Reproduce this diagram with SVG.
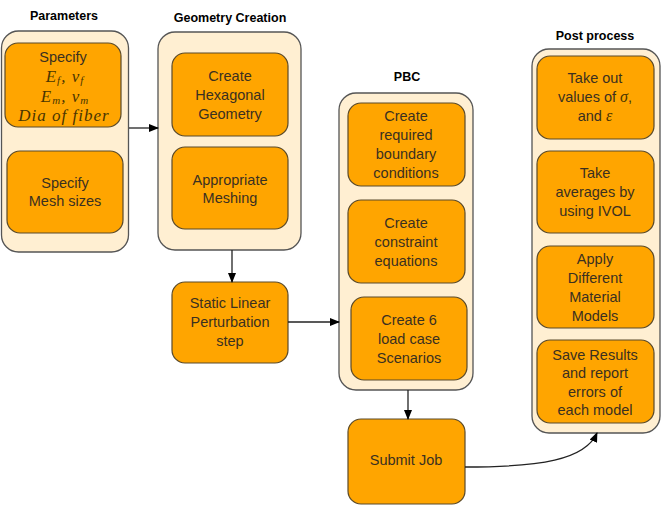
<svg xmlns="http://www.w3.org/2000/svg" width="663" height="505" viewBox="0 0 663 505">
<defs>
<style>
.c{fill:#ffefd2;stroke:#555;stroke-width:1.3}
.b{fill:#ffa500;stroke:#5a4a2a;stroke-width:1.2}
.t{font-family:"Liberation Sans",Arial,sans-serif;font-size:14.5px;fill:#3a3020;text-anchor:middle}
.h{font-family:"Liberation Sans",Arial,sans-serif;font-size:12.5px;font-weight:bold;fill:#000;text-anchor:middle}
.m{font-family:"Liberation Serif","Times New Roman",serif;font-style:italic;font-size:17px;fill:#4a3500;text-anchor:middle;letter-spacing:1px}
.s{font-size:11px}
.l{fill:none;stroke:#222;stroke-width:1.3}
</style>
<marker id="a" markerWidth="10" markerHeight="8" refX="9" refY="4" orient="auto" markerUnits="userSpaceOnUse">
<path d="M0,0 L10,4 L0,8 Z" fill="#000"/>
</marker>
</defs>
<rect width="663" height="505" fill="#fff"/>

<g id="parameters">
<text class="h" x="64" y="20">Parameters</text>
<rect class="c" x="1.5" y="31" width="127" height="221" rx="17"/>
<rect class="b" x="5" y="43" width="116" height="84" rx="13"/>
<text class="t" x="63" y="62">Specify</text>
<text class="m" x="65" y="82">E<tspan class="s" dy="2">f</tspan><tspan dy="-2">, ν</tspan><tspan class="s" dy="2">f</tspan></text>
<text class="m" x="65" y="102">E<tspan class="s" dy="2">m</tspan><tspan dy="-2">, ν</tspan><tspan class="s" dy="2">m</tspan></text>
<text class="m" x="64" y="121">Dia of fiber</text>
<rect class="b" x="7" y="151" width="116" height="82" rx="13"/>
<text class="t" x="65" y="188">Specify</text>
<text class="t" x="65" y="206">Mesh sizes</text>
</g>

<g id="geometry">
<text class="h" x="230" y="22">Geometry Creation</text>
<rect class="c" x="158" y="32" width="143" height="218" rx="17"/>
<rect class="b" x="172" y="53" width="116" height="83" rx="13"/>
<text class="t" x="230" y="81">Create</text>
<text class="t" x="230" y="100">Hexagonal</text>
<text class="t" x="230" y="119">Geometry</text>
<rect class="b" x="172" y="147" width="116" height="82" rx="13"/>
<text class="t" x="230" y="185">Appropriate</text>
<text class="t" x="230" y="203">Meshing</text>
</g>

<g id="static">
<rect class="b" x="172" y="282" width="116" height="81" rx="13"/>
<text class="t" x="230" y="308">Static Linear</text>
<text class="t" x="230" y="327">Perturbation</text>
<text class="t" x="230" y="346">step</text>
</g>

<g id="pbc">
<text class="h" x="407" y="81">PBC</text>
<rect class="c" x="339" y="93" width="134" height="297" rx="17"/>
<rect class="b" x="348" y="103" width="117" height="83" rx="13"/>
<text class="t" x="406" y="121">Create</text>
<text class="t" x="406" y="140">required</text>
<text class="t" x="406" y="159">boundary</text>
<text class="t" x="406" y="178">conditions</text>
<rect class="b" x="348" y="200" width="117" height="83" rx="13"/>
<text class="t" x="406" y="228">Create</text>
<text class="t" x="406" y="247">constraint</text>
<text class="t" x="406" y="266">equations</text>
<rect class="b" x="351" y="297" width="116" height="83" rx="13"/>
<text class="t" x="409" y="325">Create 6</text>
<text class="t" x="409" y="344">load case</text>
<text class="t" x="409" y="363">Scenarios</text>
</g>

<g id="submit">
<rect class="b" x="348" y="419" width="117" height="85" rx="13"/>
<text class="t" x="406" y="465">Submit Job</text>
</g>

<g id="post">
<text class="h" x="595" y="40">Post process</text>
<rect class="c" x="532" y="49" width="128" height="384" rx="17"/>
<rect class="b" x="537" y="56" width="117" height="83" rx="13"/>
<text class="t" x="595" y="83">Take out</text>
<text class="t" x="595" y="102">values of <tspan font-family="Liberation Serif,serif" font-style="italic" font-size="16" fill="#4a3500">σ</tspan>,</text>
<text class="t" x="595" y="121">and <tspan font-family="Liberation Serif,serif" font-style="italic" font-size="16" fill="#4a3500">ε</tspan></text>
<rect class="b" x="537" y="151" width="117" height="82" rx="13"/>
<text class="t" x="595" y="178">Take</text>
<text class="t" x="595" y="197">averages by</text>
<text class="t" x="595" y="216">using IVOL</text>
<rect class="b" x="537" y="246" width="117" height="82" rx="13"/>
<text class="t" x="595" y="264">Apply</text>
<text class="t" x="595" y="283">Different</text>
<text class="t" x="595" y="302">Material</text>
<text class="t" x="595" y="321">Models</text>
<rect class="b" x="537" y="340" width="117" height="83" rx="13"/>
<text class="t" x="595" y="360">Save Results</text>
<text class="t" x="595" y="378">and report</text>
<text class="t" x="595" y="397">errors of</text>
<text class="t" x="595" y="415">each model</text>
</g>

<g id="connectors">
<path class="l" d="M129,128 L158,128" marker-end="url(#a)"/>
<path class="l" d="M232,250 L232,282" marker-end="url(#a)"/>
<path class="l" d="M288,322 L339,322" marker-end="url(#a)"/>
<path class="l" d="M408,390 L408,419" marker-end="url(#a)"/>
<path class="l" d="M465,467 C540,467 585,460 597,433" marker-end="url(#a)"/>
</g>
</svg>
